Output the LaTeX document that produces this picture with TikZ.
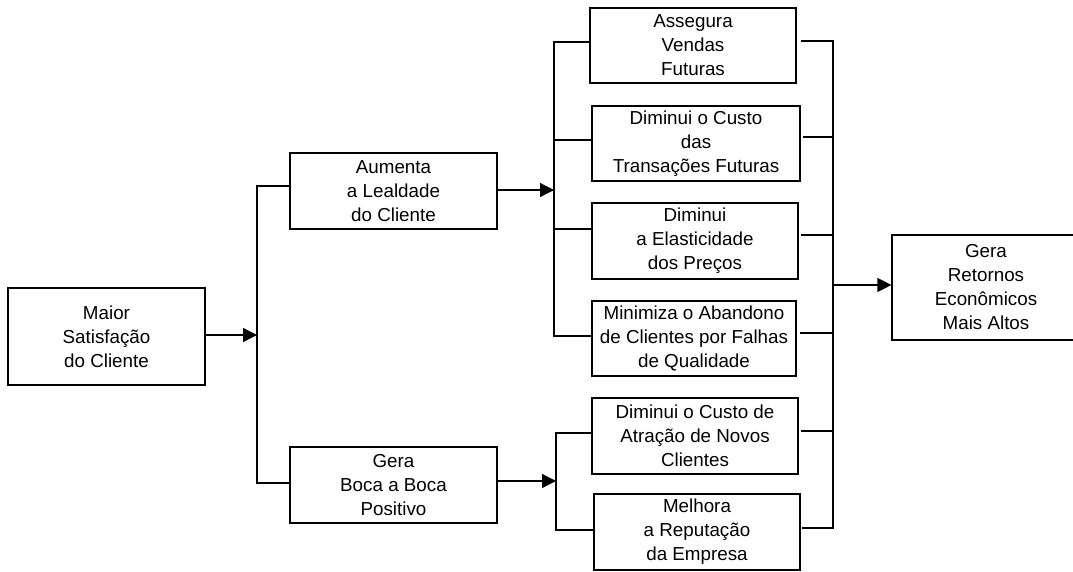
\documentclass[tikz,border=0pt]{standalone}
\usepackage{fontspec}
\setmainfont{Liberation Sans}
\usetikzlibrary{arrows.meta}
\begin{document}
\begin{tikzpicture}[x=1pt,y=-1pt,
  box/.style={draw,line width=1.2pt,inner sep=0pt,align=center,font=\fontsize{18.8}{24}\selectfont},
  con/.style={line width=1.2pt},
  arr/.style={con,-{Triangle[length=14pt,width=14pt]}}]
\useasboundingbox (0,0) rectangle (1073,571);
\clip (0,0) rectangle (1073,571);
% nodes
\node[box,minimum width=197pt,minimum height=97pt] (maior) at (106.5,336.5) {Maior\\Satisfação\\do Cliente};
\node[box,minimum width=207pt,minimum height=76pt] (aumenta) at (393.5,191) {Aumenta\\a Lealdade\\do Cliente};
\node[box,minimum width=207pt,minimum height=76pt] (gera) at (393.5,485) {Gera\\Boca a Boca\\Positivo};
\node[box,minimum width=206pt,minimum height=75pt] (a1) at (693,45.5) {Assegura\\Vendas\\Futuras};
\node[box,minimum width=208pt,minimum height=75pt] (a2) at (696,143.5) {Diminui o Custo\\das\\Transações Futuras};
\node[box,minimum width=206pt,minimum height=76pt] (a3) at (695,241) {Diminui\\a Elasticidade\\dos Preços};
\node[box,minimum width=204pt,minimum height=75pt] (a4) at (694,338.5) {Minimiza o Abandono\\de Clientes por Falhas\\de Qualidade};
\node[box,minimum width=206pt,minimum height=76pt] (b1) at (695,436) {Diminui o Custo de\\Atração de Novos\\Clientes};
\node[box,minimum width=206pt,minimum height=76pt] (b2) at (697,532) {Melhora\\a Reputação\\da Empresa};
\node[box,minimum width=188pt,minimum height=105pt] (ret) at (986,287.5) {Gera\\Retornos\\Econômicos\\Mais Altos};
% junction coordinates
\coordinate (j1) at (257,335);
\coordinate (j2) at (554,190);
\coordinate (j3) at (556,481);
\coordinate (j4) at (833,285);
% branch points
\coordinate (aumw) at ([yshift=5pt]aumenta.west);
\coordinate (gerw) at ([yshift=2pt]gera.west);
\coordinate (a1w) at ([yshift=3.5pt]a1.west);
\coordinate (a2w) at ([yshift=3.5pt]a2.west);
\coordinate (a3w) at ([yshift=12pt]a3.west);
\coordinate (a4w) at ([yshift=2.5pt]a4.west);
\coordinate (b1w) at ([yshift=3pt]b1.west);
\coordinate (b2w) at ([yshift=2pt]b2.west);
\coordinate (a1e) at ([xshift=4pt,yshift=4.5pt]a1.east);
\coordinate (a2e) at ([xshift=2pt,yshift=6.5pt]a2.east);
\coordinate (a3e) at ([xshift=2pt,yshift=6pt]a3.east);
\coordinate (a4e) at ([xshift=3pt,yshift=5.5pt]a4.east);
\coordinate (b1e) at ([xshift=2pt,yshift=5pt]b1.east);
\coordinate (b2e) at ([xshift=1pt,yshift=4pt]b2.east);
% connectors
\draw[arr] (j1 -| maior.east) -- (j1);
\draw[con] (aumw) -| (j1) |- (gerw);
\draw[arr] (j2 -| aumenta.east) -- (j2);
\draw[con] (a1w) -| (j2) |- (a4w);
\draw[con] (a2w) -- (a2w -| j2);
\draw[con] (a3w) -- (a3w -| j2);
\draw[arr] (j3 -| gera.east) -- (j3);
\draw[con] (b1w) -| (j3) |- (b2w);
\draw[con] (a1e) -| (j4) |- (b2e);
\draw[con] (a2e) -- (a2e -| j4);
\draw[con] (a3e) -- (a3e -| j4);
\draw[con] (a4e) -- (a4e -| j4);
\draw[con] (b1e) -- (b1e -| j4);
\draw[arr] (j4) -- (j4 -| ret.west);
\end{tikzpicture}
\end{document}
